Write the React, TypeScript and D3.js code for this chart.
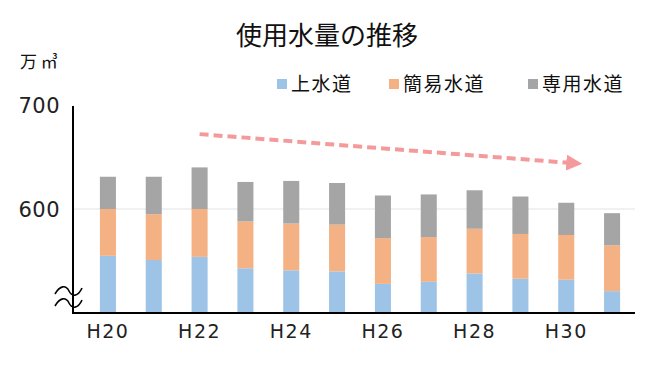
import React, { useEffect, useRef } from "react";
import * as d3 from "d3";

const years = ["H20", "H21", "H22", "H23", "H24", "H25", "H26", "H27", "H28", "H29", "H30", "H31"];
const tickLabels = ["H20", "H22", "H24", "H26", "H28", "H30"];
const jousui = [555, 551, 554, 543, 541, 540, 528, 530, 538, 533, 532, 521];
const kanni = [45, 44, 46, 45, 45, 45, 44, 43, 43, 43, 43, 44];
const senyou = [31, 36, 40, 38, 41, 40, 41, 41, 37, 36, 31, 31];
const seriesNames = ["上水道", "簡易水道", "専用水道"];
const colors = ["#9DC3E6", "#F4B183", "#A5A5A5"];
const yTicks = [600, 700];

const FONT = "'Noto Sans CJK JP', 'Noto Sans', sans-serif";
const NUMFONT = "'DejaVu Sans', sans-serif";

const App: React.FC = () => {
    const ref = useRef<SVGSVGElement>(null);

    useEffect(() => {
        if (!ref.current) return;
        const svg = d3.select(ref.current);
        svg.selectAll("*").remove();

        const width = 650;
        const height = 365;
        const axisX = 73;
        const right = 635;
        const baseY = 313;

        svg.append("rect").attr("width", width).attr("height", height).attr("fill", "#fff");

        const x = d3.scaleBand<string>().domain(years).range([85, right]).paddingInner(0.65).paddingOuter(0.325);
        const y = d3.scaleLinear().domain([500, 700]).range([baseY, 105]);

        // gridline at 600
        svg.append("line")
            .attr("x1", axisX).attr("x2", right)
            .attr("y1", y(600)).attr("y2", y(600))
            .attr("stroke", "#E3E3E3").attr("stroke-width", 1);

        // stacked data
        const rows = years.map((yr, i) => ({ yr, a: jousui[i], b: kanni[i], c: senyou[i] }));
        const stack = d3.stack<any>().keys(["a", "b", "c"])(rows);

        stack.forEach((layer, k) => {
            svg.append("g").selectAll("rect")
                .data(layer)
                .join("rect")
                .attr("x", (d: any) => x(d.data.yr)!)
                .attr("width", x.bandwidth())
                .attr("y", (d: any) => y(d[1]))
                .attr("height", (d: any) => y(Math.max(d[0], 500)) - y(d[1]))
                .attr("fill", colors[k]);
        });

        // axes
        svg.append("line").attr("x1", axisX).attr("x2", axisX).attr("y1", 106).attr("y2", baseY)
            .attr("stroke", "#000").attr("stroke-width", 2);
        svg.append("line").attr("x1", axisX - 1).attr("x2", right).attr("y1", baseY).attr("y2", baseY)
            .attr("stroke", "#000").attr("stroke-width", 2);

        // break symbol
        const wave = (cy: number) =>
            `M55,${cy + 3} C60,${cy - 6} 66,${cy - 6} 69,${cy} S78,${cy + 6} 82,${cy - 3}`;
        [291, 303].forEach((cy) => {
            svg.append("path").attr("d", wave(cy)).attr("fill", "none")
                .attr("stroke", "#000").attr("stroke-width", 1.6);
        });

        // y labels
        svg.selectAll(".ylab").data(yTicks).join("text")
            .attr("x", 60).attr("y", (d) => y(d) + 8)
            .attr("text-anchor", "end")
            .attr("font-family", NUMFONT).attr("font-size", 21).attr("fill", "#222")
            .attr("letter-spacing", 0.5)
            .text((d) => d);

        // x labels
        svg.selectAll(".xlab").data(tickLabels).join("text")
            .attr("x", (d) => x(d)! + x.bandwidth() / 2)
            .attr("y", 338)
            .attr("text-anchor", "middle")
            .attr("font-family", NUMFONT).attr("font-size", 19).attr("fill", "#222")
            .attr("letter-spacing", 1.5)
            .text((d) => d);

        // unit
        svg.append("text").attr("x", 20).attr("y", 68)
            .attr("font-family", FONT).attr("font-size", 17).attr("fill", "#111")
            .text("万 ㎥");

        // title
        svg.append("text").attr("x", 327).attr("y", 45).attr("text-anchor", "middle")
            .attr("font-family", FONT).attr("font-size", 26).attr("fill", "#111")
            .text("使用水量の推移");

        // legend
        const legX = [277, 389, 528];
        seriesNames.forEach((name, i) => {
            svg.append("rect").attr("x", legX[i]).attr("y", 79).attr("width", 10).attr("height", 10)
                .attr("fill", colors[i]);
            svg.append("text").attr("x", legX[i] + 14).attr("y", 91)
                .attr("font-family", FONT).attr("font-size", 19).attr("fill", "#111")
                .attr("letter-spacing", 1.5)
                .text(name);
        });

        // trend arrow
        const defs = svg.append("defs");
        defs.append("marker").attr("id", "ah").attr("viewBox", "0 0 10 10")
            .attr("refX", 5).attr("refY", 5).attr("markerWidth", 4).attr("markerHeight", 4)
            .attr("orient", "auto-start-reverse")
            .append("path").attr("d", "M0,0 L10,5 L0,10 z").attr("fill", "#F59A9A");
        const x0 = x("H22")! + x.bandwidth() / 2;
        const x1 = x("H30")! + x.bandwidth() / 2 + 8;
        svg.append("line")
            .attr("x1", x0).attr("y1", y(672))
            .attr("x2", x1).attr("y2", y(644))
            .attr("stroke", "#F59A9A").attr("stroke-width", 4)
            .attr("stroke-dasharray", "9,5")
            .attr("marker-end", "url(#ah)");
    }, []);

    return <svg ref={ref} width={650} height={365} style={{ position: "absolute", left: 0, top: 0 }} />;
};

export default App;
